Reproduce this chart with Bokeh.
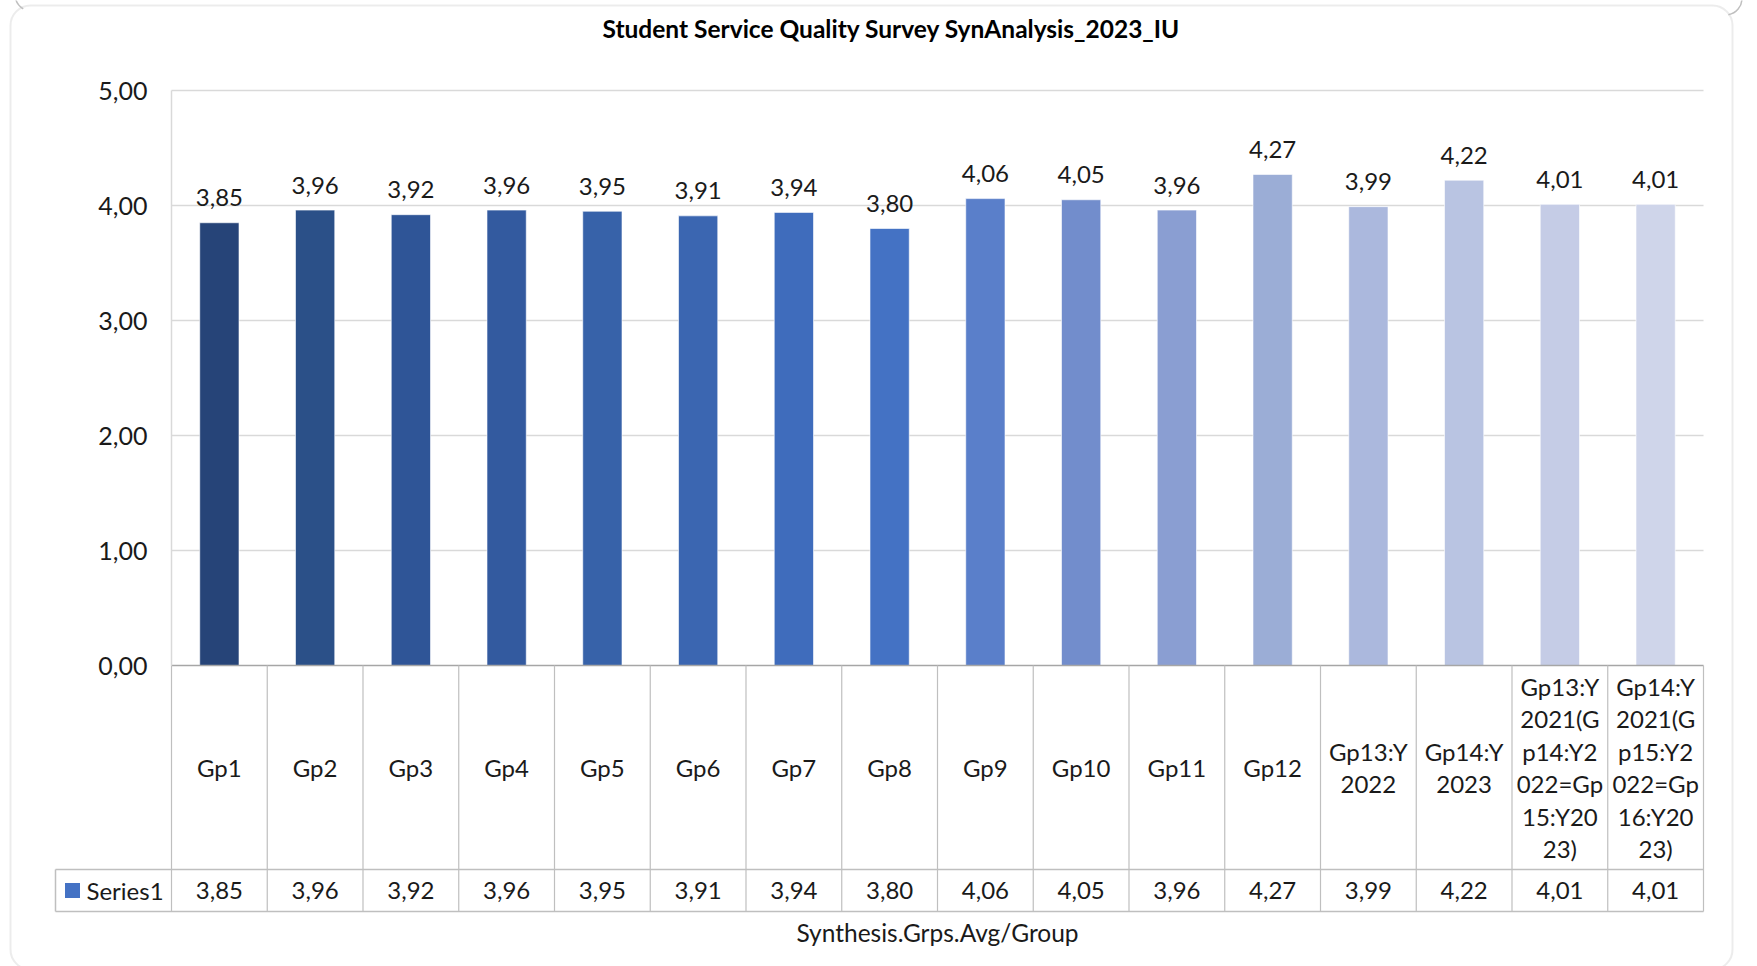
import math

from bokeh.plotting import figure
from bokeh.models import (Range1d, LinearAxis, FixedTicker, CustomJSTickFormatter,
                          BoxAnnotation, ColumnDataSource)
from bokeh.core.properties import value
from bokeh.embed import file_html
from bokeh.resources import INLINE

# ---- data -------------------------------------------------------------
title_text = "Student Service Quality Survey SynAnalysis_2023_IU"
axis_title = "Synthesis.Grps.Avg/Group"
series_name = "Series1"
categories = ["Gp1", "Gp2", "Gp3", "Gp4", "Gp5", "Gp6", "Gp7", "Gp8", "Gp9",
              "Gp10", "Gp11", "Gp12", "Gp13:Y2022", "Gp14:Y2023",
              "Gp13:Y2021(Gp14:Y2022=Gp15:Y2023)",
              "Gp14:Y2021(Gp15:Y2022=Gp16:Y2023)"]
values = [3.85, 3.96, 3.92, 3.96, 3.95, 3.91, 3.94, 3.80, 4.06, 4.05, 3.96,
          4.27, 3.99, 4.22, 4.01, 4.01]
y_ticks = [0, 1, 2, 3, 4, 5]
bar_colors = ["#264478", "#2B5088", "#2F5597", "#335A9F", "#3762A9", "#3B66B1",
              "#3F6CBC", "#4472C4", "#5A7FCA", "#728DCC", "#8A9ED2", "#9BADD6",
              "#ABB8DD", "#B9C4E2", "#C5CCE6", "#CFD5EA"]
series_color = "#4472C4"

# ---- page geometry (pixels) ------------------------------------------
W, H = 1757, 966
PLOT_L, PLOT_R = 171, 1703          # plot area / data table columns
ZERO_Y, UNIT_Y = 665, 115           # pixel row of 0 and pixels per unit
ROW_TOP, ROW_BOT = 869, 911         # data-table value row
LEGEND_L = 55                       # left edge of the series cell
FONT = "Lato"
FS = "24px"
TEXT_COLOR = "#1A1A1A"
FRAME_COLOR = "#BFBFBF"
n = len(categories)
col_w = (PLOT_R - PLOT_L) / n


def dx(px):
    return (px - PLOT_L) / col_w


def dy(py):
    return (ZERO_Y - py) / UNIT_Y


def fmt(v):
    return f"{v:.2f}".replace(".", ",")


def wrap(s, width=6):
    if len(s) <= width:
        return s
    return "\n".join(s[i:i + width] for i in range(0, len(s), width))


centers = [i + 0.5 for i in range(n)]
src = ColumnDataSource(dict(
    x=centers, top=values, color=bar_colors,
    label=[fmt(v) for v in values],
    cat=[wrap(c) for c in categories],
))

p = figure(width=W, height=H, x_range=Range1d(dx(0), dx(W)),
           y_range=Range1d(dy(H), dy(0)), x_axis_type=None, y_axis_type=None,
           output_backend="svg", toolbar_location=None, min_border=0,
           outline_line_color=None, background_fill_color="white",
           border_fill_color="white")

# horizontal gridlines across the plot area
grid_vals = [t for t in y_ticks if t > 0]
p.segment(x0=[0] * len(grid_vals), x1=[n] * len(grid_vals), y0=grid_vals,
          y1=grid_vals, line_color="#D9D9D9", line_width=1.5)

# value axis
yaxis = LinearAxis(fixed_location=0, bounds=(0, max(y_ticks)),
                   ticker=FixedTicker(ticks=y_ticks),
                   formatter=CustomJSTickFormatter(
                       code="return tick.toFixed(2).replace('.', ',')"),
                   major_tick_out=0, major_tick_in=0, minor_tick_out=0,
                   minor_tick_in=0, axis_line_color="#D9D9D9",
                   axis_line_width=1.5, major_label_standoff=24,
                   major_label_text_font=FONT,
                   major_label_text_font_size="25px",
                   major_label_text_color=TEXT_COLOR)
p.add_layout(yaxis, "left")

# bars
p.vbar(x="x", top="top", bottom=0, width=0.41, fill_color="color",
       line_color="white", line_alpha=0.6, line_width=1, source=src)

# value labels above bars
p.text(x="x", y="top", text="label", text_align="center",
       text_baseline="alphabetic", y_offset=-25, text_font=value(FONT),
       text_font_size=FS, text_color=TEXT_COLOR, source=src)

# data table: grid lines
p.segment(x0=[0], x1=[n], y0=[0], y1=[0], line_color="#A6A6A6",
          line_width=1.5)
p.segment(x0=list(range(n + 1)), x1=list(range(n + 1)),
          y0=[0] * (n + 1), y1=[dy(ROW_BOT)] * (n + 1),
          line_color=FRAME_COLOR, line_width=1.2)
p.segment(x0=[dx(LEGEND_L)] * 2, x1=[n] * 2,
          y0=[dy(ROW_TOP), dy(ROW_BOT)], y1=[dy(ROW_TOP), dy(ROW_BOT)],
          line_color=FRAME_COLOR, line_width=1.5)
p.segment(x0=[dx(LEGEND_L)], x1=[dx(LEGEND_L)], y0=[dy(ROW_TOP)],
          y1=[dy(ROW_BOT)], line_color=FRAME_COLOR, line_width=1.5)

# category labels, wrapped inside their cells
row_mid = dy((ROW_TOP + ROW_BOT) / 2)
p.text(x="x", y=dy((ZERO_Y + ROW_TOP) / 2), text="cat", text_align="center",
       text_baseline="middle", text_line_height=1.12, text_font=value(FONT),
       text_font_size=FS, text_color=TEXT_COLOR, source=src)

# value row
p.text(x="x", y=row_mid, text="label", text_align="center",
       text_baseline="middle", text_font=value(FONT), text_font_size=FS,
       text_color=TEXT_COLOR, source=src)

# series key
p.scatter(x=[dx(72)], y=[row_mid], marker="square", size=15,
          fill_color=series_color, line_color=None)
p.text(x=[dx(86)], y=[row_mid], text=[series_name], text_align="left",
       text_baseline="middle", text_font=value(FONT), text_font_size=FS,
       text_color=TEXT_COLOR)

# titles
p.text(x=[dx(891)], y=[dy(28)], text=[title_text], text_align="center",
       text_baseline="middle", text_font=value(FONT), text_font_size="24.5px",
       text_font_style="bold", text_color="#000000")
p.text(x=[dx(937)], y=[dy(932)], text=[axis_title], text_align="center",
       text_baseline="middle", text_font=value(FONT), text_font_size="24.5px",
       text_color=TEXT_COLOR)

# rounded chart border
p.add_layout(BoxAnnotation(left=dx(10), right=dx(1732), top=dy(5),
                           bottom=dy(969), fill_color=None,
                           line_color=FRAME_COLOR, line_width=2,
                           border_radius=20))

# small corner arcs of the surrounding frame
p.arc(x=[dx(31), dx(1725)], y=[dy(-6), dy(-2)], radius=16.5,
      radius_units="screen",
      start_angle=[math.radians(195), math.radians(280)],
      end_angle=[math.radians(240), math.radians(360)],
      line_color=FRAME_COLOR, line_width=1.5)

open("out.html", "w").write(file_html(p, INLINE))
